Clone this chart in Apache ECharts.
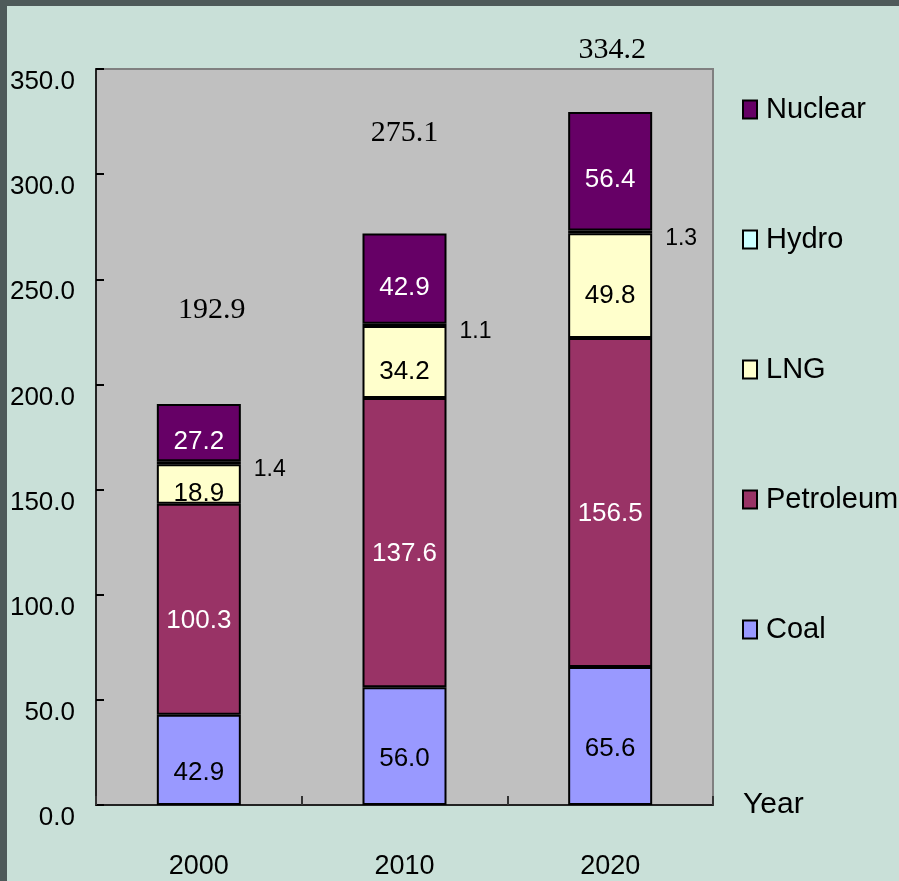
<!DOCTYPE html>
<html><head><meta charset="utf-8">
<script src="https://cdn.jsdelivr.net/npm/echarts@6/dist/echarts.min.js"></script>
<style>html,body{margin:0;padding:0;background:#c9e0d8;}#c{width:899px;height:881px;}</style>
</head><body><div id="c"></div>
<script>
var years = ['2000','2010','2020'];
var coal = [42.9, 56.0, 65.6];
var petroleum = [100.3, 137.6, 156.5];
var lng = [18.9, 34.2, 49.8];
var hydro = [1.4, 1.1, 1.3];
var nuclear = [27.2, 42.9, 56.4];
var totals = [192.9, 275.1, 334.2];
var yTicks = [0, 50, 100, 150, 200, 250, 300, 350];

var totalOffsets = [[13,-74],[0,-80],[2,-42]];
var sans = 'Liberation Sans';
function segLabel(color, dy){
  return {show:true, position:'inside', color:color, fontFamily:sans, fontSize:26, offset:[0,dy],
    formatter:function(p){return p.value.toFixed(1);}};
}
function series(name, data, color, labelColor, dy){
  return {name:name, type:'bar', stack:'s', data:data, barWidth:84,
    itemStyle:{color:color, borderColor:'#000', borderWidth:2},
    label: segLabel(labelColor, dy)};
}
var chart = echarts.init(document.getElementById('c'), null, {renderer:'canvas'});
chart.setOption({
  backgroundColor:'#c9e0d8',
  animation:false,
  graphic:[
    {type:'rect', shape:{x:0,y:0,width:899,height:6}, style:{fill:'#4e5a5a'}},
    {type:'rect', shape:{x:0,y:0,width:7,height:881}, style:{fill:'#4e5a5a'}}
  ],
  grid:{left:96, top:69, width:617, height:736, show:true, backgroundColor:'#c0c0c0', borderColor:'#808080', borderWidth:2},
  legend:{orient:'vertical', left:737, top:90, itemGap:101, itemWidth:14, itemHeight:18, icon:'rect',
    data:['Nuclear','Hydro','LNG','Petroleum','Coal'],
    textStyle:{fontFamily:sans, fontSize:29, color:'#000', padding:[6,0,0,4]}},
  xAxis:{type:'category', data:years, name:'Year', nameLocation:'end', nameGap:30,
    nameTextStyle:{fontFamily:sans, fontSize:30, color:'#000', verticalAlign:'middle', padding:[4,0,0,0]},
    axisLine:{lineStyle:{color:'#222', width:2}},
    axisTick:{show:true, inside:true, length:9, lineStyle:{color:'#333', width:2}},
    axisLabel:{fontFamily:sans, fontSize:27, color:'#000', margin:48}},
  yAxis:{type:'value', min:0, max:350, interval:50,
    axisLine:{show:true, lineStyle:{color:'#222', width:2}},
    axisTick:{show:true, inside:true, length:8, lineStyle:{color:'#000', width:2}},
    splitLine:{show:false},
    axisLabel:{fontFamily:sans, fontSize:26, color:'#000', margin:21, verticalAlign:'top',
      formatter:function(v){return yTicks.indexOf(v)>=0 ? v.toFixed(1) : '';}}},
  series:[
    series('Coal', coal, '#9999ff', '#000', 13),
    series('Petroleum', petroleum, '#993366', '#fff', 11),
    series('LNG', lng, '#ffffcc', '#000', 10),
    {name:'Hydro', type:'bar', stack:'s', data:hydro, barWidth:84,
      itemStyle:{color:'#ccffff', borderColor:'#000', borderWidth:2},
      label:{show:true, position:'right', distance:13, offset:[0,7], color:'#000', fontFamily:sans, fontSize:23,
        formatter:function(p){return p.value.toFixed(1);}}},
    series('Nuclear', nuclear, '#660066', '#fff', 9),
    {name:'Total', type:'bar', stack:'s', barWidth:84, silent:true,
      data: totals.map(function(t,i){return {value:0, label:{offset:totalOffsets[i]}};}),
      itemStyle:{color:'transparent', borderWidth:0},
      label:{show:true, position:'top', distance:5, color:'#000', fontFamily:'Liberation Serif', fontSize:30,
        formatter:function(p){return totals[p.dataIndex].toFixed(1);}}}
  ]
});
</script></body></html>
